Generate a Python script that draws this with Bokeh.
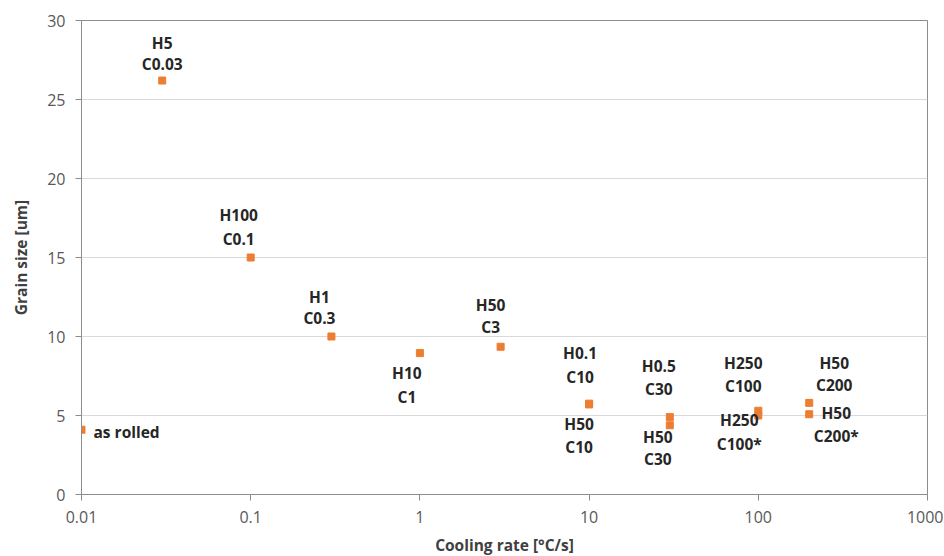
from bokeh.plotting import figure
from bokeh.models import ColumnDataSource, FixedTicker, CustomJSTickFormatter
from bokeh.core.properties import value
from bokeh.embed import file_html
from bokeh.resources import INLINE

# ---- data ----
cooling_rate = [0.01, 0.03, 0.1, 0.3, 1, 3, 10, 10, 30, 30, 100, 100, 200, 200]
grain_size = [4.1, 26.2, 15.0, 10.0, 8.95, 9.35, 5.75, 5.7, 4.9, 4.38, 5.3, 5.0, 5.8, 5.08]
label_line1 = ["as rolled", "H5", "H100", "H1", "H10", "H50", "H0.1", "H50",
               "H0.5", "H50", "H250", "H250", "H50", "H50"]
label_line2 = ["", "C0.03", "C0.1", "C0.3", "C1", "C3", "C10", "C10",
               "C30", "C30", "C100", "C100*", "C200", "C200*"]
x_ticks = [0.01, 0.1, 1, 10, 100, 1000]
y_ticks = [0, 5, 10, 15, 20, 25, 30]

# ---- label layout (pixel offsets from each point) ----
label_dx = [12, 0, -12, -12, -13, -10, -9, -10, -11, -12, -15, -19, 25, 27]
label_dy1 = [2, -38, -43, -40, 20, -42, -51, 20, -51, 12, -48, 4, -40, -1]
label_dy2 = [0, -17, -19, -19, 44, -20, -27, 43, -28, 34, -25, 28, -18, 22]
label_align = ["left"] + ["center"] * 13

FONT = "Open Sans"

p = figure(x_axis_type="log", x_range=(0.01, 1000), y_range=(0, 30),
           frame_width=846, frame_height=474,
           min_border_left=81, min_border_right=16, min_border_top=20, min_border_bottom=60,
           output_backend="svg", toolbar_location=None,
           background_fill_color="white", border_fill_color="white")

p.outline_line_color = "#8c8c8c"
p.outline_line_width = 1

p.xgrid.grid_line_color = None
p.ygrid.grid_line_color = "#d9d9d9"
p.ygrid.grid_line_width = 1

p.xaxis.ticker = FixedTicker(ticks=x_ticks, minor_ticks=[])
p.xaxis.formatter = CustomJSTickFormatter(code="return tick.toString();")
p.yaxis.ticker = FixedTicker(ticks=y_ticks, minor_ticks=[])

for ax in (p.xaxis[0], p.yaxis[0]):
    ax.axis_line_color = "#8c8c8c"
    ax.major_tick_line_color = "#8c8c8c"
    ax.major_tick_out = 6
    ax.major_tick_in = 0
    ax.minor_tick_line_color = None
    ax.major_label_text_font = FONT
    ax.major_label_text_font_size = "16px"
    ax.major_label_text_color = "#595959"
    ax.axis_label_text_font = FONT
    ax.axis_label_text_font_size = "15.5px"
    ax.axis_label_text_font_style = "bold"
    ax.axis_label_text_color = "#404040"

p.xaxis.axis_label = "Cooling rate [°C/s]"
p.yaxis.axis_label = "Grain size [um]"
p.xaxis.major_label_standoff = 10
p.xaxis.axis_label_standoff = 8
p.yaxis.major_label_standoff = 10
p.yaxis.axis_label_standoff = 12

src = ColumnDataSource(dict(x=cooling_rate, y=grain_size, l1=label_line1, l2=label_line2,
                            dx=label_dx, dy1=label_dy1, dy2=label_dy2, al=label_align))

p.scatter("x", "y", source=src, marker="square", size=7,
          fill_color="#ED7D31", line_color="#ED7D31")

p.text("x", "y", text="l1", source=src, x_offset="dx", y_offset="dy1",
       text_align="al", text_baseline="middle",
       text_font=value(FONT), text_font_size="15.5px", text_font_style="bold",
       text_color="#262626")
p.text("x", "y", text="l2", source=src, x_offset="dx", y_offset="dy2",
       text_align="al", text_baseline="middle",
       text_font=value(FONT), text_font_size="15.5px", text_font_style="bold",
       text_color="#262626")

open("out.html", "w").write(file_html(p, INLINE))
